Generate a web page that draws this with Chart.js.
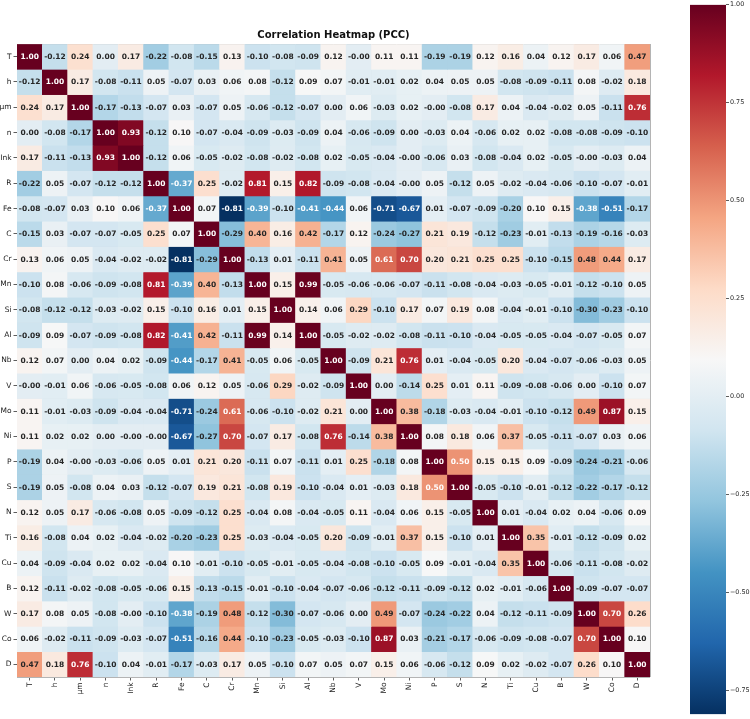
<!DOCTYPE html>
<html><head><meta charset="utf-8">
<script src="https://cdn.jsdelivr.net/npm/chart.js@4.4.1/dist/chart.umd.min.js"></script>
<style>
html,body{margin:0;padding:0;background:#fff;}
#wrap{position:relative;width:750px;height:719px;overflow:hidden;}
#main{position:absolute;left:0;top:0;}
#cbar{position:absolute;left:680px;top:0;}
</style></head><body>
<div id="wrap">
<canvas id="main" width="750" height="719"></canvas>
<canvas id="cbar" width="70" height="719"></canvas>
</div>
<script>
// ---------- DATA ----------
const titleText = 'Correlation Heatmap (PCC)';
const variables = ['T','h','μm','n','Ink','R','Fe','C','Cr','Mn','Si','Al','Nb','V','Mo','Ni','P','S','N','Ti','Cu','B','W','Co','D'];

const row_T   = [1.00,-0.12,0.24,0.00,0.17,-0.22,-0.08,-0.15,0.13,-0.10,-0.08,-0.09,0.12,-0.00,0.11,0.11,-0.19,-0.19,0.12,0.16,0.04,0.12,0.17,0.06,0.47];
const row_h   = [-0.12,1.00,0.17,-0.08,-0.11,0.05,-0.07,0.03,0.06,0.08,-0.12,0.09,0.07,-0.01,-0.01,0.02,0.04,0.05,0.05,-0.08,-0.09,-0.11,0.08,-0.02,0.18];
const row_um  = [0.24,0.17,1.00,-0.17,-0.13,-0.07,0.03,-0.07,0.05,-0.06,-0.12,-0.07,0.00,0.06,-0.03,0.02,-0.00,-0.08,0.17,0.04,-0.04,-0.02,0.05,-0.11,0.76];
const row_n   = [0.00,-0.08,-0.17,1.00,0.93,-0.12,0.10,-0.07,-0.04,-0.09,-0.03,-0.09,0.04,-0.06,-0.09,0.00,-0.03,0.04,-0.06,0.02,0.02,-0.08,-0.08,-0.09,-0.10];
const row_Ink = [0.17,-0.11,-0.13,0.93,1.00,-0.12,0.06,-0.05,-0.02,-0.08,-0.02,-0.08,0.02,-0.05,-0.04,-0.00,-0.06,0.03,-0.08,-0.04,0.02,-0.05,-0.00,-0.03,0.04];
const row_R   = [-0.22,0.05,-0.07,-0.12,-0.12,1.00,-0.37,0.25,-0.02,0.81,0.15,0.82,-0.09,-0.08,-0.04,-0.00,0.05,-0.12,0.05,-0.02,-0.04,-0.06,-0.10,-0.07,-0.01];
const row_Fe  = [-0.08,-0.07,0.03,0.10,0.06,-0.37,1.00,0.07,-0.81,-0.39,-0.10,-0.41,-0.44,0.06,-0.71,-0.67,0.01,-0.07,-0.09,-0.20,0.10,0.15,-0.38,-0.51,-0.17];
const row_C   = [-0.15,0.03,-0.07,-0.07,-0.05,0.25,0.07,1.00,-0.29,0.40,0.16,0.42,-0.17,0.12,-0.24,-0.27,0.21,0.19,-0.12,-0.23,-0.01,-0.13,-0.19,-0.16,-0.03];
const row_Cr  = [0.13,0.06,0.05,-0.04,-0.02,-0.02,-0.81,-0.29,1.00,-0.13,0.01,-0.11,0.41,0.05,0.61,0.70,0.20,0.21,0.25,0.25,-0.10,-0.15,0.48,0.44,0.17];
const row_Mn  = [-0.10,0.08,-0.06,-0.09,-0.08,0.81,-0.39,0.40,-0.13,1.00,0.15,0.99,-0.05,-0.06,-0.06,-0.07,-0.11,-0.08,-0.04,-0.03,-0.05,-0.01,-0.12,-0.10,0.05];
const row_Si  = [-0.08,-0.12,-0.12,-0.03,-0.02,0.15,-0.10,0.16,0.01,0.15,1.00,0.14,0.06,0.29,-0.10,0.17,0.07,0.19,0.08,-0.04,-0.01,-0.10,-0.30,-0.23,-0.10];
const row_Al  = [-0.09,0.09,-0.07,-0.09,-0.08,0.82,-0.41,0.42,-0.11,0.99,0.14,1.00,-0.05,-0.02,-0.02,-0.08,-0.11,-0.10,-0.04,-0.05,-0.05,-0.04,-0.07,-0.05,0.07];
const row_Nb  = [0.12,0.07,0.00,0.04,0.02,-0.09,-0.44,-0.17,0.41,-0.05,0.06,-0.05,1.00,-0.09,0.21,0.76,0.01,-0.04,-0.05,0.20,-0.04,-0.07,-0.06,-0.03,0.05];
const row_V   = [-0.00,-0.01,0.06,-0.06,-0.05,-0.08,0.06,0.12,0.05,-0.06,0.29,-0.02,-0.09,1.00,0.00,-0.14,0.25,0.01,0.11,-0.09,-0.08,-0.06,0.00,-0.10,0.07];
const row_Mo  = [0.11,-0.01,-0.03,-0.09,-0.04,-0.04,-0.71,-0.24,0.61,-0.06,-0.10,-0.02,0.21,0.00,1.00,0.38,-0.18,-0.03,-0.04,-0.01,-0.10,-0.12,0.49,0.87,0.15];
const row_Ni  = [0.11,0.02,0.02,0.00,-0.00,-0.00,-0.67,-0.27,0.70,-0.07,0.17,-0.08,0.76,-0.14,0.38,1.00,0.08,0.18,0.06,0.37,-0.05,-0.11,-0.07,0.03,0.06];
const row_P   = [-0.19,0.04,-0.00,-0.03,-0.06,0.05,0.01,0.21,0.20,-0.11,0.07,-0.11,0.01,0.25,-0.18,0.08,1.00,0.50,0.15,0.15,0.09,-0.09,-0.24,-0.21,-0.06];
const row_S   = [-0.19,0.05,-0.08,0.04,0.03,-0.12,-0.07,0.19,0.21,-0.08,0.19,-0.10,-0.04,0.01,-0.03,0.18,0.50,1.00,-0.05,-0.10,-0.01,-0.12,-0.22,-0.17,-0.12];
const row_N   = [0.12,0.05,0.17,-0.06,-0.08,0.05,-0.09,-0.12,0.25,-0.04,0.08,-0.04,-0.05,0.11,-0.04,0.06,0.15,-0.05,1.00,0.01,-0.04,0.02,0.04,-0.06,0.09];
const row_Ti  = [0.16,-0.08,0.04,0.02,-0.04,-0.02,-0.20,-0.23,0.25,-0.03,-0.04,-0.05,0.20,-0.09,-0.01,0.37,0.15,-0.10,0.01,1.00,0.35,-0.01,-0.12,-0.09,0.02];
const row_Cu  = [0.04,-0.09,-0.04,0.02,0.02,-0.04,0.10,-0.01,-0.10,-0.05,-0.01,-0.05,-0.04,-0.08,-0.10,-0.05,0.09,-0.01,-0.04,0.35,1.00,-0.06,-0.11,-0.08,-0.02];
const row_B   = [0.12,-0.11,-0.02,-0.08,-0.05,-0.06,0.15,-0.13,-0.15,-0.01,-0.10,-0.04,-0.07,-0.06,-0.12,-0.11,-0.09,-0.12,0.02,-0.01,-0.06,1.00,-0.09,-0.07,-0.07];
const row_W   = [0.17,0.08,0.05,-0.08,-0.00,-0.10,-0.38,-0.19,0.48,-0.12,-0.30,-0.07,-0.06,0.00,0.49,-0.07,-0.24,-0.22,0.04,-0.12,-0.11,-0.09,1.00,0.70,0.26];
const row_Co  = [0.06,-0.02,-0.11,-0.09,-0.03,-0.07,-0.51,-0.16,0.44,-0.10,-0.23,-0.05,-0.03,-0.10,0.87,0.03,-0.21,-0.17,-0.06,-0.09,-0.08,-0.07,0.70,1.00,0.10];
const row_D   = [0.47,0.18,0.76,-0.10,0.04,-0.01,-0.17,-0.03,0.17,0.05,-0.10,0.07,0.05,0.07,0.15,0.06,-0.06,-0.12,0.09,0.02,-0.02,-0.07,0.26,0.10,1.00];

const colorbarTicks = [1.00, 0.75, 0.50, 0.25, 0.00, -0.25, -0.50, -0.75];
const colorbarTickLabels = ['1.00','0.75','0.50','0.25','0.00','\u22120.25','\u22120.50','\u22120.75'];

// ---------- BUILD ----------
const matrix = [row_T,row_h,row_um,row_n,row_Ink,row_R,row_Fe,row_C,row_Cr,row_Mn,row_Si,row_Al,row_Nb,row_V,row_Mo,row_Ni,row_P,row_S,row_N,row_Ti,row_Cu,row_B,row_W,row_Co,row_D];
const allVals = matrix.flat();
const vmin = Math.min(...allVals);
const vmax = Math.max(...allVals);

// RdBu_r colormap stops
const rdbuR = ['#053061','#2166ac','#4393c3','#92c5de','#d1e5f0','#f7f7f7','#fddbc7','#f4a582','#d6604d','#b2182b','#67001f'];
const stopsRGB = rdbuR.map(h => [parseInt(h.slice(1,3),16),parseInt(h.slice(3,5),16),parseInt(h.slice(5,7),16)]);
function cmapRGB(v){
  let t = (v - vmin) / (vmax - vmin);
  t = Math.max(0, Math.min(1, t));
  const q = Math.min(255, Math.floor(t * 256)) / 255;
  const pos = q * (stopsRGB.length - 1);
  const i = Math.min(stopsRGB.length - 2, Math.floor(pos));
  const f = pos - i;
  const a = stopsRGB[i], b = stopsRGB[i+1];
  return [0,1,2].map(k => a[k] + (b[k]-a[k])*f);
}
function cssRGB(c){ return 'rgb(' + c.map(x => Math.round(x)).join(',') + ')'; }
function luminance(c){
  const lin = c.map(x => { x = x/255; return x <= 0.03928 ? x/12.92 : Math.pow((x+0.055)/1.055, 2.4); });
  return 0.2126*lin[0] + 0.7152*lin[1] + 0.0722*lin[2];
}
function fmt(v){ return Object.is(v, -0) ? '-0.00' : v.toFixed(2); }

const FONT = '"DejaVu Sans", "Liberation Sans", sans-serif';
const gridColor = '#b4b4b4';
const tickColor = '#333333';
const textColor = '#1a1a1a';

const datasets = matrix.map((row, r) => ({
  data: row.map(() => [r, r + 1]),
  backgroundColor: row.map(v => cssRGB(cmapRGB(v))),
  borderWidth: 0,
  barPercentage: 1,
  categoryPercentage: 1,
  grouped: false,
  xAxisID: 'x',
  yAxisID: 'y'
}));

const annotPlugin = {
  id: 'annot',
  afterDatasetsDraw(chart){
    const ctx = chart.ctx, xs = chart.scales.x, ys = chart.scales.y;
    ctx.save();
    ctx.font = 'bold 7.5px ' + FONT;
    ctx.textAlign = 'center';
    ctx.textBaseline = 'middle';
    matrix.forEach((row, r) => row.forEach((v, c) => {
      const col = cmapRGB(v);
      ctx.fillStyle = luminance(col) > 0.408 ? '#262626' : '#ffffff';
      ctx.fillText(fmt(v), xs.getPixelForValue(c), ys.getPixelForValue(r + 0.5) + 0.5);
    }));
    ctx.restore();
  }
};

new Chart(document.getElementById('main'), {
  type: 'bar',
  data: { labels: variables, datasets },
  options: {
    responsive: false,
    animation: false,
    events: [],
    layout: { padding: { left: 0, right: 100, top: 0, bottom: 0 } },
    plugins: {
      legend: { display: false },
      tooltip: { enabled: false },
      title: {
        display: true, text: titleText, fullSize: false, color: '#111',
        font: { family: FONT, size: 10, weight: 'bold', lineHeight: 1.2 },
        padding: { top: 29, bottom: 3 }
      }
    },
    scales: {
      x: {
        type: 'category', labels: variables, position: 'bottom', offset: true, z: 1,
        ticks: { display: false },
        grid: { offset: true, color: gridColor, lineWidth: 1, drawTicks: false },
        border: { display: false },
        afterFit: s => { s.height = 0; }
      },
      xl: {
        type: 'category', labels: variables, position: 'bottom', offset: true,
        ticks: { color: textColor, font: { family: FONT, size: 7.5 }, minRotation: 90, maxRotation: 90, autoSkip: false, padding: 2 },
        grid: { offset: false, drawOnChartArea: false, drawTicks: true, tickLength: 3.5, tickColor: tickColor, tickWidth: 0.8 },
        border: { display: false },
        afterFit: s => { s.height = 42; }
      },
      y: {
        type: 'linear', position: 'left', min: 0, max: variables.length, reverse: true, z: 1,
        afterBuildTicks: s => { s.ticks = variables.map((_, i) => ({ value: i })).concat([{ value: variables.length }]); },
        ticks: { display: false },
        grid: { color: gridColor, lineWidth: 1, drawTicks: false },
        border: { display: false },
        afterFit: s => { s.width = 0; }
      },
      yl: {
        type: 'category', labels: variables, position: 'left', offset: true,
        ticks: { color: textColor, font: { family: FONT, size: 7.5 }, autoSkip: false, padding: 2 },
        grid: { offset: false, drawOnChartArea: false, drawTicks: true, tickLength: 3.5, tickColor: tickColor, tickWidth: 0.8 },
        border: { display: false },
        afterFit: s => { s.width = 17; }
      }
    }
  },
  plugins: [annotPlugin]
});

// ---------- COLORBAR ----------
new Chart(document.getElementById('cbar'), {
  type: 'bar',
  data: {
    labels: [''],
    datasets: [{
      data: [[vmin, vmax]],
      backgroundColor: c => {
        const ch = c.chart, ys = ch.scales.y;
        if (!ch.chartArea || !ys) return rdbuR[5];
        const y0 = ys.getPixelForValue(vmin), y1 = ys.getPixelForValue(vmax);
        if (!isFinite(y0) || !isFinite(y1)) return rdbuR[5];
        const g = ch.ctx.createLinearGradient(0, y0, 0, y1);
        rdbuR.forEach((col, i) => g.addColorStop(i / (rdbuR.length - 1), col));
        return g;
      },
      borderWidth: 0, barPercentage: 1, categoryPercentage: 1
    }]
  },
  options: {
    responsive: false, animation: false, events: [],
    layout: { padding: { left: 10, right: 0, top: 4, bottom: 2 } },
    plugins: { legend: { display: false }, tooltip: { enabled: false } },
    scales: {
      x: { display: false, offset: true },
      y: {
        position: 'right', min: vmin, max: vmax,
        afterBuildTicks: s => { s.ticks = colorbarTicks.map(v => ({ value: v })); },
        ticks: { color: textColor, font: { family: FONT, size: 6.4 }, padding: 1,
                 callback: v => colorbarTickLabels[colorbarTicks.indexOf(v)] },
        grid: { drawOnChartArea: false, drawTicks: true, tickLength: 3, tickColor: tickColor, tickWidth: 0.8 },
        border: { display: false },
        afterFit: s => { s.width = 24; }
      }
    }
  }
});
</script>
</body></html>
